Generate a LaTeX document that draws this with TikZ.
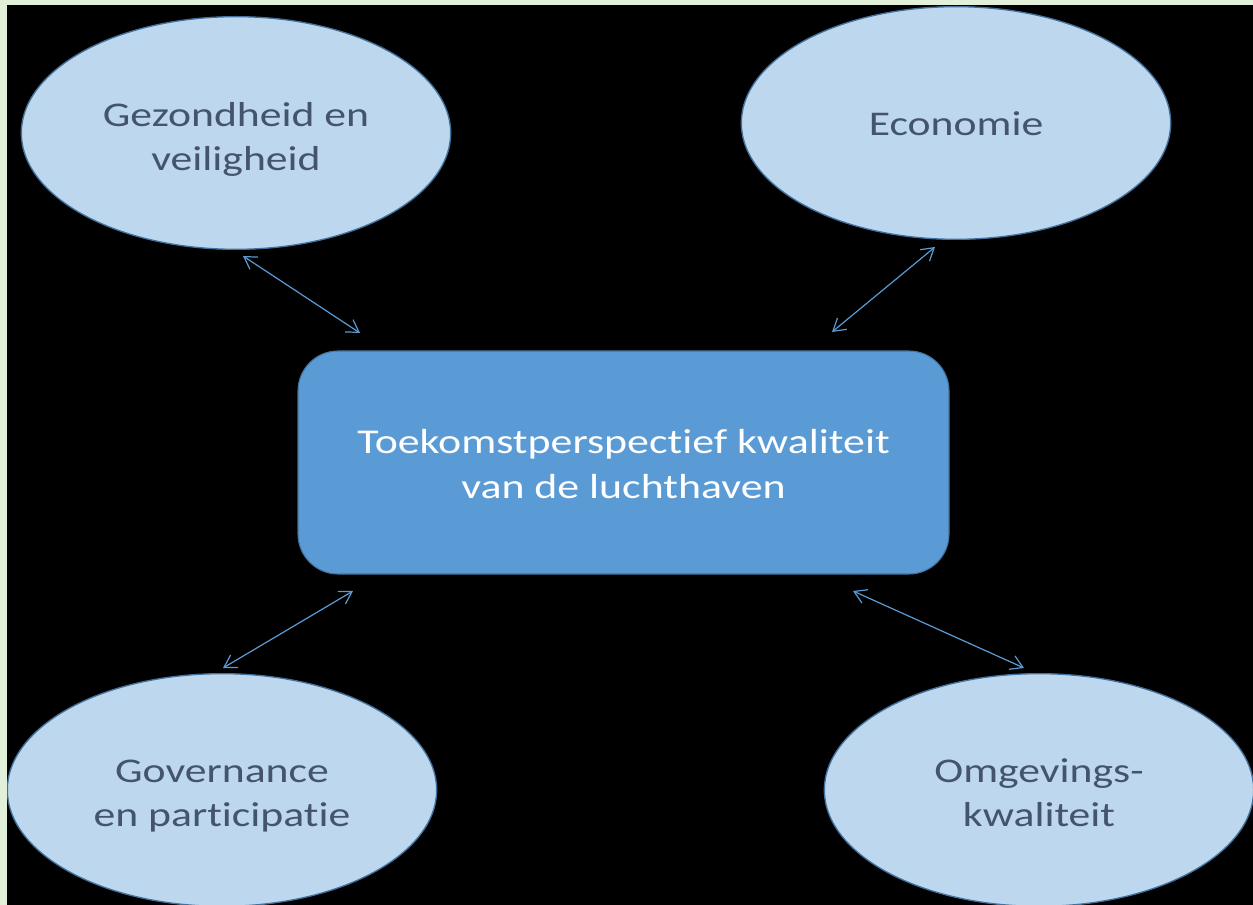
\documentclass[tikz,border=0pt]{standalone}
\usepackage{fontspec}
\setmainfont[FakeStretch=1.26,Ligatures={NoCommon,NoContextual,NoRare},Contextuals=NoAlternate]{Carlito}
\usetikzlibrary{shapes.geometric,arrows.meta}
\definecolor{bggreen}{HTML}{E2EFD9}
\definecolor{ellfill}{HTML}{BDD7EE}
\definecolor{ellline}{HTML}{41719C}
\definecolor{boxfill}{HTML}{5B9BD5}
\definecolor{txt}{HTML}{44546A}
\definecolor{arr}{HTML}{5B9BD5}
\newcommand{\dn}[2]{\raisebox{-#1}[\height][\depth]{#2}}
\begin{document}
\begin{tikzpicture}[x=0.75pt,y=-0.75pt,
  topic/.style={ellipse, draw=ellline, line width=1pt, fill=ellfill, text=txt,
    align=center, inner sep=0pt, minimum width=322pt, minimum height=174.5pt,
    font=\fontsize{26pt}{33pt}\selectfont},
  core/.style={rectangle, rounded corners=30pt, draw=ellline, line width=0.8pt,
    fill=boxfill, text=white, align=center, inner sep=0pt,
    minimum width=488.25pt, minimum height=167.25pt,
    font=\fontsize{26.1pt}{33.75pt}\selectfont},
  link/.style={draw=arr, line width=0.9pt,
    {Straight Barb[length=9pt,width=11pt]}-{Straight Barb[length=9pt,width=11pt]}}]
\useasboundingbox (0,0) rectangle (1253,905);
\fill[bggreen] (0,0) rectangle (1253,905);
\fill[black] (7,5) rectangle (1253,905);
\clip (7,5) rectangle (1253,905);

\node[topic] (gez) at (236,133) {\dn{4.5pt}{Gezondheid en}\\\dn{4.5pt}{veiligheid}};
\node[topic] (eco) at (956,123) {\dn{0.75pt}{Economie}};
\node[topic] (gov) at (222,790) {\dn{4.5pt}{Governance}\\\dn{4.5pt}{en participatie}};
\node[topic] (omg) at (1039,790) {\dn{2.25pt}{Omgevings-}\\\dn{2.25pt}{kwaliteit}};
\node[core] (kern) at (623.5,462.5) {\dn{1.5pt}{Toekomstperspectief kwaliteit}\\\dn{1.5pt}{van de luchthaven}};

\coordinate (a1) at (243,256);
\coordinate (b1) at (360,333);
\coordinate (a2) at (935,247);
\coordinate (b2) at (832,332);
\coordinate (a3) at (223,668);
\coordinate (b3) at (353,591);
\coordinate (a4) at (1024,668);
\coordinate (b4) at (853,591);

\draw[link] (a1) -- (b1);
\draw[link] (a2) -- (b2);
\draw[link] (a3) -- (b3);
\draw[link] (a4) -- (b4);
\end{tikzpicture}
\end{document}
